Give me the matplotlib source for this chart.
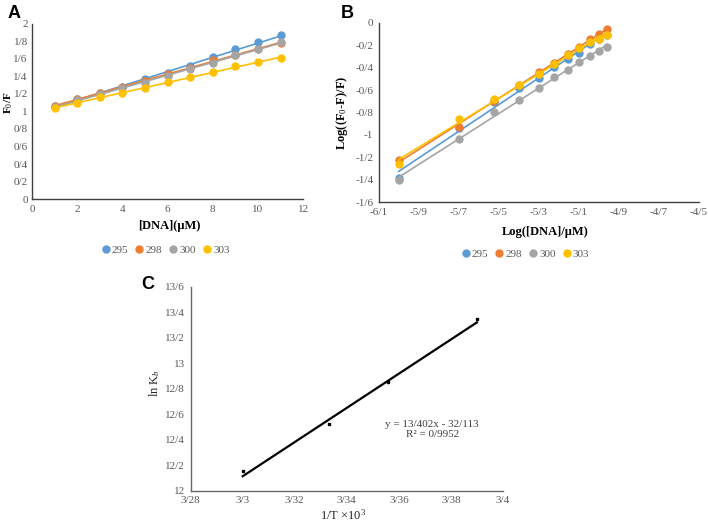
import numpy as np
import matplotlib
matplotlib.use("Agg")
import matplotlib.pyplot as plt
from matplotlib.ticker import FuncFormatter, MultipleLocator
from matplotlib.lines import Line2D

plt.rcParams['font.family'] = ['Liberation Serif', 'DejaVu Serif']
plt.rcParams['mathtext.fontset'] = 'custom'
plt.rcParams['mathtext.rm'] = 'Liberation Serif'
plt.rcParams['mathtext.it'] = 'Liberation Serif:italic'
plt.rcParams['mathtext.bf'] = 'Liberation Serif:bold'

# ---- data ----
temps = ['295', '298', '300', '303']
colors = ['#5B9BD5', '#ED7D31', '#A5A5A5', '#FFC000']

# panel A: Stern-Volmer
dna = [1, 2, 3, 4, 5, 6, 7, 8, 9, 10, 11]
f0f_295 = [1.065, 1.14, 1.21, 1.28, 1.37, 1.44, 1.52, 1.62, 1.71, 1.79, 1.87]
f0f_298 = [1.06, 1.14, 1.21, 1.28, 1.35, 1.43, 1.50, 1.59, 1.65, 1.71, 1.78]
f0f_300 = [1.05, 1.13, 1.20, 1.265, 1.33, 1.41, 1.485, 1.55, 1.64, 1.71, 1.79]
f0f_303 = [1.045, 1.095, 1.16, 1.21, 1.265, 1.335, 1.39, 1.45, 1.515, 1.565, 1.61]

# panel B: double log
logdna = [-6.0, -5.699, -5.523, -5.398, -5.301, -5.222, -5.155, -5.097, -5.046, -5.0, -4.959]
logf_295 = [-1.38, -0.94, -0.71, -0.58, -0.49, -0.39, -0.32, -0.265, -0.19, -0.145, -0.11]
logf_298 = [-1.225, -0.93, -0.695, -0.555, -0.44, -0.358, -0.28, -0.215, -0.146, -0.10, -0.054]
logf_300 = [-1.40, -1.04, -0.795, -0.69, -0.58, -0.483, -0.417, -0.35, -0.292, -0.25, -0.218]
logf_303 = [-1.255, -0.86, -0.68, -0.554, -0.459, -0.37, -0.29, -0.223, -0.17, -0.146, -0.11]

# panel C: van't Hoff
inv_t = [3.300, 3.333, 3.356, 3.390]
lnkb = [12.155, 12.52, 12.855, 13.35]
fit_slope, fit_icpt = 13.402, -32.113

tick_col = '#595959'
spine_col = '#404040'


def slash(v, pos=None):
    v = round(v, 3)
    if abs(v) < 1e-9:
        return '0'
    return f"{v:g}".replace('.', '/')


def style(ax, sc=spine_col):
    for s in ['top', 'right']:
        ax.spines[s].set_visible(False)
    for s in ['left', 'bottom']:
        ax.spines[s].set_color(sc)
        ax.spines[s].set_linewidth(1.0)
    ax.tick_params(length=0, labelsize=8, colors=tick_col, pad=4)
    ax.xaxis.set_major_formatter(FuncFormatter(slash))
    ax.yaxis.set_major_formatter(FuncFormatter(slash))


fig = plt.figure(figsize=(7.08, 5.21), dpi=100)

# ---- A ----
axA = fig.add_axes([0.0452, 0.618, 0.383, 0.336])
style(axA)
axA.tick_params(axis='y', pad=3)
for ys, c in zip([f0f_295, f0f_298, f0f_300, f0f_303], colors):
    axA.plot(dna, ys, 'o', color=c, ms=5, mec=c)
    p = np.polyfit(dna, ys, 1)
    axA.plot([dna[0], dna[-1]], np.polyval(p, [dna[0], dna[-1]]), color=c, lw=1.2)
axA.set_xlim(0, 12)
axA.set_ylim(0, 2)
axA.xaxis.set_major_locator(MultipleLocator(2))
axA.yaxis.set_major_locator(MultipleLocator(0.2))
axA.set_xlabel('[DNA](μM)', fontsize=9, fontweight='bold')
axA.xaxis.set_label_coords(0.505, -0.12)
axA.set_ylabel('F$_0$/F', fontsize=8, fontweight='bold')
axA.yaxis.set_label_coords(-0.063, 0.55)

handles = [Line2D([], [], marker='o', ls='', color=c, ms=5) for c in colors]
legA = axA.legend(handles, temps, loc='center', bbox_to_anchor=(0.49, -0.29), ncol=4,
                  frameon=False, fontsize=8, handletextpad=0.05, columnspacing=0.5,
                  handlelength=1.0)
for t in legA.get_texts():
    t.set_color(tick_col)

# ---- B ----
axB = fig.add_axes([0.535, 0.612, 0.452, 0.344])
style(axB)
for ys, c in zip([logf_295, logf_298, logf_300, logf_303], colors):
    axB.plot(logdna, ys, 'o', color=c, ms=5, mec=c)
    p = np.polyfit(logdna, ys, 1)
    axB.plot([logdna[0], logdna[-1]], np.polyval(p, [logdna[0], logdna[-1]]), color=c, lw=1.2)
axB.set_xlim(-6.1, -4.5)
axB.set_ylim(-1.6, 0)
axB.set_xticks(np.arange(-6.1, -4.49, 0.2))
axB.yaxis.set_major_locator(MultipleLocator(0.2))
axB.set_xlabel('Log([DNA]/μM)', fontsize=9, fontweight='bold')
axB.xaxis.set_label_coords(0.52, -0.134)
axB.set_ylabel('Log((F$_0$-F)/F)', fontsize=9, fontweight='bold')
axB.yaxis.set_label_coords(-0.09, 0.5)
legB = axB.legend(handles, temps, loc='center', bbox_to_anchor=(0.456, -0.29), ncol=4,
                  frameon=False, fontsize=8, handletextpad=0.05, columnspacing=0.5,
                  handlelength=1.0)
for t in legB.get_texts():
    t.set_color(tick_col)

# ---- C ----
axC = fig.add_axes([0.2694, 0.0582, 0.441, 0.3916])
style(axC, '#666666')
axC.plot(inv_t, lnkb, 's', color='black', ms=2)
xf = np.array([inv_t[0], inv_t[-1]])
axC.plot(xf, fit_slope * xf + fit_icpt, color='black', lw=1.6)
axC.set_xlim(3.28, 3.40)
axC.set_ylim(12, 13.6)
axC.set_xticks(np.arange(3.28, 3.401, 0.02))
axC.yaxis.set_major_locator(MultipleLocator(0.2))
axC.set_xlabel('1/T ×10$^3$', fontsize=9, color='#262626')
axC.xaxis.set_label_coords(0.488, -0.083)
axC.set_ylabel('ln K$_b$', fontsize=9, color='#262626')
axC.yaxis.set_label_coords(-0.092, 0.528)
axC.text(0.773, 0.30, 'y = 13/402x - 32/113\nR² = 0/9952', transform=axC.transAxes,
         ha='center', va='center', fontsize=8, color='#404040', linespacing=1.2)

# panel letters
for lbl, x, y in [('A', 0.02, 0.975), ('B', 0.49, 0.975), ('C', 0.208, 0.453)]:
    fig.text(x, y, lbl, fontsize=13, fontweight='bold', family='Liberation Sans',
             ha='center', va='center')

fig.savefig('out.png', dpi=100)
